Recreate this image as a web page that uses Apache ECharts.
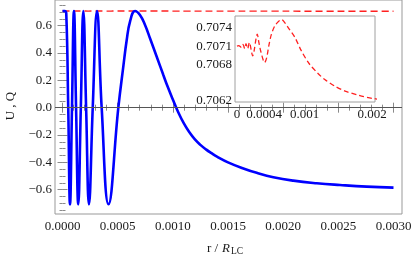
<!DOCTYPE html>
<html>
<head>
<meta charset="utf-8">
<script src="https://cdn.jsdelivr.net/npm/echarts@6/dist/echarts.min.js"></script>
<style>html,body{margin:0;padding:0;background:#fff;}#c{width:415px;height:262px;}</style>
</head>
<body>
<div id="c"></div>
<script>
// ---- data ----
const uX = [0, 0.00002, 0.000034, 0.000052, 0.000068, 0.000086, 0.000104, 0.000123, 0.000143, 0.000166,
  0.000189, 0.000214, 0.00024, 0.000274, 0.000313, 0.000355, 0.000417, 0.000506, 0.000551, 0.000582,
  0.000612, 0.000657, 0.000702, 0.000748, 0.000793, 0.000854, 0.000914, 0.00095, 0.001, 0.00105,
  0.0011, 0.00115, 0.0012, 0.00125, 0.0013, 0.00135, 0.0014, 0.0015, 0.001639, 0.00176,
  0.001911, 0.002092, 0.002304, 0.002515, 0.002757, 0.003];
const uVal = [0.7071, 0.7071, 0.69, 0, -0.7071, 0, 0.7071, 0, -0.7071, 0,
  0.7071, 0, -0.7071, 0, 0.7071, 0, -0.7071, 0, 0.30, 0.495,
  0.629, 0.7071, 0.678, 0.605, 0.508, 0.373, 0.239, 0.16, 0.06, -0.035,
  -0.115, -0.18, -0.232, -0.272, -0.305, -0.333, -0.358, -0.40, -0.445, -0.477,
  -0.509, -0.534, -0.553, -0.566, -0.578, -0.585];
const qX = [0, 0.000025, 0.000064, 0.000089, 0.000114, 0.000133, 0.000158, 0.000183, 0.000232, 0.000301,
  0.000321, 0.000351, 0.00041, 0.00044, 0.00047, 0.000508, 0.000558, 0.000618, 0.000662, 0.000707,
  0.000756, 0.00086, 0.00095, 0.00107, 0.0012, 0.0013, 0.00145, 0.0016, 0.0018, 0.002, 0.0025, 0.003];
const qVal = [0.70710, 0.70711, 0.70708, 0.70713, 0.70706, 0.70714, 0.70706, 0.70716, 0.70694, 0.70730,
  0.70718, 0.70702, 0.70683, 0.70691, 0.70710, 0.70729, 0.70743, 0.70751, 0.70754, 0.70749,
  0.70741, 0.70724, 0.70703, 0.70681, 0.70665, 0.70655, 0.70644, 0.70636, 0.70629, 0.70624, 0.70617, 0.70613];
const xTicks = [0, 0.0005, 0.001, 0.0015, 0.002, 0.0025, 0.003];
const yTicks = [-0.6, -0.4, -0.2, 0, 0.2, 0.4, 0.6];
const insetXLabels = [0, 0.0004, 0.001, 0.002];
const insetXTicks = [0, 0.0005, 0.001, 0.0015, 0.002];
const insetYTicks = [0.7062, 0.7068, 0.7071, 0.7074];

// ---- chart ----
const FONT = '"Liberation Serif", "Times New Roman", serif';
const xMinor = []; for (let i = 0; i <= 30; i++) xMinor.push(+(i * 0.0001).toFixed(5));
const yMinor = []; for (let i = -15; i <= 15; i++) yMinor.push(+(i * 0.05).toFixed(2));
const XMIN = -0.000068, XMAX = 0.003077, YMIN = -0.778, YMAX = 0.788;
const tickColor = '#8a8a8a';

function mainX(pos, vals, len, labels) {
  return {
    type: 'value', gridIndex: 0, position: pos, min: XMIN, max: XMAX,
    axisLine: { show: false }, splitLine: { show: false },
    axisTick: { show: true, inside: true, length: len, customValues: vals, lineStyle: { color: tickColor, width: 1 } },
    axisLabel: labels ? { show: true, customValues: vals, margin: 6, fontFamily: FONT, fontSize: 13, color: '#1a1a1a',
      formatter: v => v.toFixed(4) } : { show: false }
  };
}
function mainY(pos, vals, len, labels) {
  return {
    type: 'value', gridIndex: 0, position: pos, min: YMIN, max: YMAX,
    axisLine: { show: false }, splitLine: { show: false },
    axisTick: { show: true, inside: true, length: len, customValues: vals, lineStyle: { color: tickColor, width: 1 } },
    axisLabel: labels ? { show: true, customValues: vals, margin: 3, fontFamily: FONT, fontSize: 13, color: '#1a1a1a',
      formatter: v => (v < -1e-9 ? '\u2212' : '') + Math.abs(v).toFixed(1) } : { show: false }
  };
}

const chart = echarts.init(document.getElementById('c'), null, { renderer: 'canvas' });
chart.setOption({
  animation: false,
  backgroundColor: '#fff',
  grid: [
    { left: 55, right: 13, top: 0, bottom: 48, show: true, borderColor: '#999', borderWidth: 1, backgroundColor: 'transparent' },
    { left: 235, top: 16, width: 140, height: 86, show: true, borderColor: '#a0a0a0', borderWidth: 1, backgroundColor: '#fff', z: 5 }
  ],
  xAxis: [
    mainX('bottom', xTicks, 5, true),
    mainX('bottom', xMinor, 3, false),
    mainX('top', xTicks, 5, false),
    mainX('top', xMinor, 3, false),
    { type: 'value', gridIndex: 1, position: 'bottom', min: -0.0000296, max: 0.002044,
      axisLine: { show: false }, splitLine: { show: false },
      axisTick: { show: true, inside: true, length: 4, customValues: insetXTicks, lineStyle: { color: tickColor } },
      axisLabel: { show: true, customValues: insetXLabels, margin: 6, fontFamily: FONT, fontSize: 13, color: '#1a1a1a',
        formatter: v => String(v) } }
  ],
  yAxis: [
    mainY('left', yTicks, 5, true),
    mainY('left', yMinor, 3, false),
    mainY('right', yTicks, 5, false),
    mainY('right', yMinor, 3, false),
    { type: 'value', gridIndex: 1, position: 'left', min: 0.706179, max: 0.707598,
      axisLine: { show: false }, splitLine: { show: false },
      axisTick: { show: true, inside: true, length: 4, customValues: insetYTicks, lineStyle: { color: tickColor } },
      axisLabel: { show: true, customValues: insetYTicks, margin: 3, fontFamily: FONT, fontSize: 13, color: '#1a1a1a',
        formatter: v => v.toFixed(4) } }
  ],
  series: [
    { type: 'line', xAxisIndex: 0, yAxisIndex: 0, data: qX.map((x, i) => [x, qVal[i]]),
      showSymbol: false, smooth: 0.3, lineStyle: { color: '#ff2020', width: 1.4, type: [7, 4] }, z: 3 },
    { type: 'line', xAxisIndex: 0, yAxisIndex: 0, data: uX.map((x, i) => [x, uVal[i]]),
      showSymbol: false, smooth: 0.45, lineStyle: { color: '#0000ff', width: 2.6 }, z: 4,
      markLine: { silent: true, symbol: ['none', 'none'], label: { show: false },
        lineStyle: { color: '#555', width: 1, type: 'solid' }, data: [{ yAxis: 0 }] } },
    { type: 'line', xAxisIndex: 4, yAxisIndex: 4, data: qX.map((x, i) => [x, qVal[i]]), clip: true,
      showSymbol: false, smooth: 0.3, lineStyle: { color: '#ff2020', width: 1.3, type: [5, 3] }, z: 6 }
  ],
  graphic: [
    { type: 'text', x: 11, y: 106, rotation: Math.PI / 2, style: { text: 'U , Q', font: '13px ' + FONT, fill: '#1a1a1a', align: 'center', verticalAlign: 'middle' } },
    { type: 'text', x: 207, y: 248.5, style: { text: 'r / ', font: '13px ' + FONT, fill: '#1a1a1a', align: 'left', verticalAlign: 'middle' } },
    { type: 'text', x: 222, y: 248.5, style: { text: 'R', font: 'italic 13px ' + FONT, fill: '#1a1a1a', align: 'left', verticalAlign: 'middle' } },
    { type: 'text', x: 231, y: 251, style: { text: 'LC', font: '9.5px ' + FONT, fill: '#1a1a1a', align: 'left', verticalAlign: 'middle' } }
  ]
});
</script>
</body>
</html>
